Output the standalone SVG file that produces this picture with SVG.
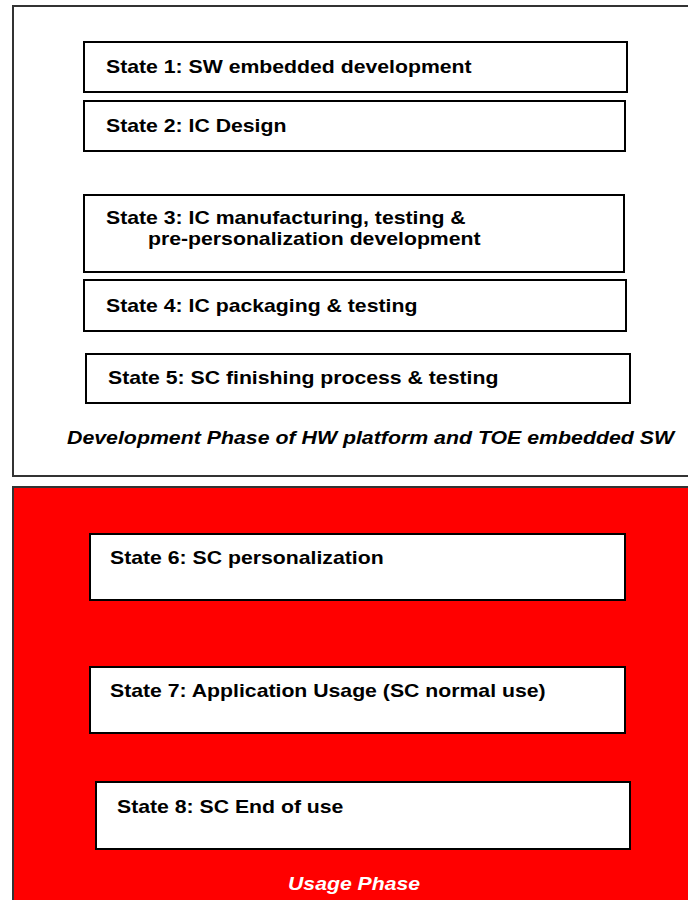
<svg xmlns="http://www.w3.org/2000/svg" width="688" height="900" viewBox="0 0 688 900">
<style>
.phase{stroke:#333;stroke-width:2}
.box{fill:#fff;stroke:#000;stroke-width:2}
.t{font-family:"Liberation Sans",Arial,sans-serif;font-weight:bold;font-size:18px;fill:#000}
.lbl{font-family:"Liberation Sans",Arial,sans-serif;font-weight:bold;font-style:italic;font-size:18px}
</style>
<rect width="688" height="900" fill="#fff"/>
<g id="dev-phase">
<rect class="phase" x="13" y="6" width="690" height="470" fill="#fff"/>
<text class="lbl" fill="#000" transform="translate(67,444) scale(1.185,1)">Development Phase of HW platform and TOE embedded SW</text>
</g>
<g id="usage-phase">
<rect class="phase" x="13" y="487" width="690" height="430" fill="#ff0000"/>
<text class="lbl" fill="#fff" transform="translate(288,890) scale(1.18,1)">Usage Phase</text>
</g>
<g id="state1"><rect class="box" x="84" y="42" width="543" height="50"/><text class="t" transform="translate(106,73) scale(1.18,1)">State 1: SW embedded development</text></g>
<g id="state2"><rect class="box" x="84" y="101" width="541" height="50"/><text class="t" transform="translate(106,132) scale(1.18,1)">State 2: IC Design</text></g>
<g id="state3"><rect class="box" x="84" y="195" width="540" height="77"/><text class="t" transform="translate(106,224) scale(1.18,1)">State 3: IC manufacturing, testing &amp;</text><text class="t" transform="translate(148,245) scale(1.18,1)">pre-personalization development</text></g>
<g id="state4"><rect class="box" x="84" y="280" width="542" height="51"/><text class="t" transform="translate(106,312) scale(1.18,1)">State 4: IC packaging &amp; testing</text></g>
<g id="state5"><rect class="box" x="86" y="354" width="544" height="49"/><text class="t" transform="translate(108,384) scale(1.18,1)">State 5: SC finishing process &amp; testing</text></g>
<g id="state6"><rect class="box" x="90" y="534" width="535" height="66"/><text class="t" transform="translate(110,564) scale(1.18,1)">State 6: SC personalization</text></g>
<g id="state7"><rect class="box" x="90" y="667" width="535" height="66"/><text class="t" transform="translate(110,697) scale(1.18,1)">State 7: Application Usage (SC normal use)</text></g>
<g id="state8"><rect class="box" x="96" y="782" width="534" height="67"/><text class="t" transform="translate(117,813) scale(1.18,1)">State 8: SC End of use</text></g>
</svg>
